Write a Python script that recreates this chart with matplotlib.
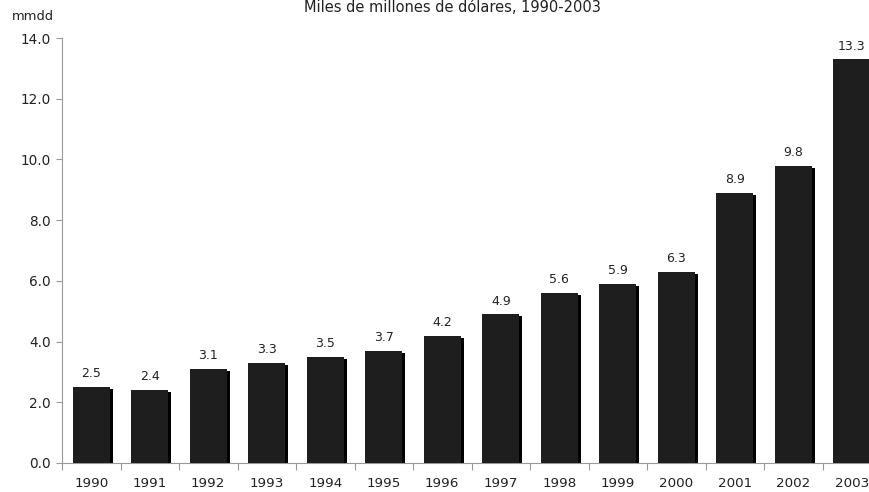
import matplotlib.pyplot as plt
import numpy as np

# Data
years = ['1990', '1991', '1992', '1993', '1994', '1995', '1996',
         '1997', '1998', '1999', '2000', '2001', '2002', '2003']
values = [2.5, 2.4, 3.1, 3.3, 3.5, 3.7, 4.2, 4.9, 5.6, 5.9, 6.3, 8.9, 9.8, 13.3]
y_ticks = [0.0, 2.0, 4.0, 6.0, 8.0, 10.0, 12.0, 14.0]

TEXT = '#222222'
AXIS = '#999999'

fig = plt.figure(figsize=(8.69, 4.92), dpi=100)
# right edge runs past the figure, as in the reference (last bar is cut)
ax = fig.add_axes([62 / 869, 1 - 463 / 492, 819 / 869, 425 / 492])

x = np.arange(len(years))
width = 0.63

# shadow bars, slightly offset to the right
ax.bar(x + 0.05, np.array(values) - 0.07, width=width, color='#000000', zorder=2)
ax.bar(x, values, width=width, color='#1e1e1e', zorder=3)

for xi, v in zip(x, values):
    ax.text(xi, v + 0.22, f'{v:.1f}', ha='center', va='bottom',
            fontsize=9, color=TEXT)

ax.set_xlim(-0.5, len(years) - 0.5)
ax.set_ylim(0, 14)
ax.set_yticks(y_ticks)
ax.set_yticklabels([f'{t:.1f}' for t in y_ticks])

# x ticks sit between categories, labels in the middle
ax.set_xticks(np.arange(len(years) + 1) - 0.5)
ax.set_xticklabels([])
ax.set_xticks(x, minor=True)
ax.set_xticklabels(years, minor=True)
ax.tick_params(axis='x', which='major', length=5, color=AXIS)
ax.tick_params(axis='x', which='minor', length=0, pad=10, labelsize=9.7, labelcolor=TEXT)
ax.tick_params(axis='y', length=4, color=AXIS, labelsize=9.8, labelcolor=TEXT, pad=4)

for side in ['top', 'right']:
    ax.spines[side].set_visible(False)
ax.spines['left'].set_color(AXIS)
ax.spines['bottom'].set_color(AXIS)

fig.text(452 / 869, 1 - 7 / 492, 'Miles de millones de dólares, 1990-2003',
         ha='center', va='center', fontsize=10.5, color=TEXT)
fig.text(12 / 869, 1 - 17 / 492, 'mmdd', ha='left', va='center',
         fontsize=9.4, color=TEXT)

fig.savefig('out.png', dpi=100)
